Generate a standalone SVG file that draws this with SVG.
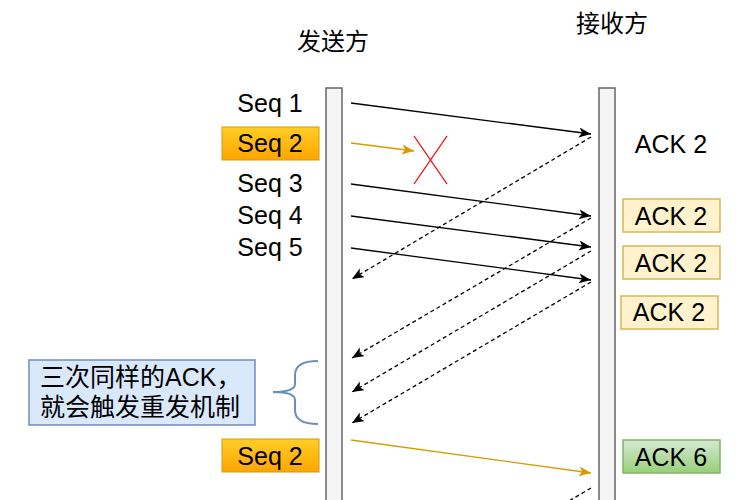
<svg xmlns="http://www.w3.org/2000/svg" width="746" height="500" viewBox="0 0 746 500">
<defs>
<linearGradient id="gOrange" x1="0" y1="0" x2="0" y2="1"><stop offset="0" stop-color="#ffcd28"/><stop offset="1" stop-color="#ffa500"/></linearGradient>
<linearGradient id="gGreen" x1="0" y1="0" x2="0" y2="1"><stop offset="0" stop-color="#d5e8d4"/><stop offset="1" stop-color="#97d077"/></linearGradient>
<marker id="aBlack" markerUnits="userSpaceOnUse" markerWidth="14" markerHeight="12" refX="12" refY="5" orient="auto"><path d="M0,0 L12,5 L0,10 L3,5 Z" fill="#000"/></marker>
<marker id="aOrange" markerUnits="userSpaceOnUse" markerWidth="14" markerHeight="12" refX="12" refY="5" orient="auto"><path d="M0,0 L12,5 L0,10 L3,5 Z" fill="#d79b00"/></marker>
</defs>
<style>
text{font-family:"Liberation Sans","Noto Sans CJK SC",sans-serif;font-size:25px;fill:#000}
.cjk{font-family:"Noto Sans CJK SC",sans-serif;font-size:24px}
.mid{text-anchor:middle}
.bar{fill:#f5f5f5;stroke:#666666;stroke-width:1.5}
.orange{fill:url(#gOrange);stroke:#d79b00;stroke-width:1}
.yellow{fill:#fff2cc;stroke:#d6b656;stroke-width:1.5}
.green{fill:url(#gGreen);stroke:#82b366;stroke-width:1.5}
.blue{fill:#dae8fc;stroke:#6c8ebf;stroke-width:1.5}
.msg{stroke:#000;stroke-width:1.3;fill:none;marker-end:url(#aBlack)}
.ack{stroke:#000;stroke-width:1.3;fill:none;stroke-dasharray:4 3;marker-end:url(#aBlack)}
.re{stroke:#d79b00;stroke-width:1.3;fill:none;marker-end:url(#aOrange)}
</style>
<rect width="746" height="500" fill="#fff"/>
<g id="sender">
<text class="cjk mid" x="333" y="50">发送方</text>
<rect class="bar" x="326" y="88" width="16" height="430"/>
</g>
<g id="receiver">
<text class="cjk mid" x="612" y="32">接收方</text>
<rect class="bar" x="599" y="88" width="16" height="430"/>
</g>
<g id="seq1"><text class="mid" x="270" y="112">Seq 1</text></g>
<g id="seq2"><rect class="orange" x="222" y="127" width="97" height="33"/><text class="mid" x="270" y="152">Seq 2</text></g>
<g id="seq3"><text class="mid" x="270" y="192">Seq 3</text></g>
<g id="seq4"><text class="mid" x="270" y="224">Seq 4</text></g>
<g id="seq5"><text class="mid" x="270" y="256">Seq 5</text></g>
<g id="ack2a"><text class="mid" x="671" y="153">ACK 2</text></g>
<g id="ack2b"><rect class="yellow" x="623" y="199" width="97" height="33"/><text class="mid" x="671" y="225">ACK 2</text></g>
<g id="ack2c"><rect class="yellow" x="623" y="246" width="97" height="33"/><text class="mid" x="671" y="272">ACK 2</text></g>
<g id="ack2d"><rect class="yellow" x="621" y="296" width="97" height="33"/><text class="mid" x="669" y="321">ACK 2</text></g>
<g id="note">
<rect class="blue" x="29" y="360" width="226" height="65"/>
<text x="40" y="386">三次同样的ACK，</text>
<text x="40" y="416">就会触发重发机制</text>
</g>
<g id="brace"><path d="M318,361 Q295,361 295,375 L295,384 Q295,392 273,392 Q295,392 295,400 L295,410 Q295,424 318,424" fill="none" stroke="#6c8ebf" stroke-width="2"/></g>
<g id="seq2retry"><rect class="orange" x="222" y="439" width="97" height="33"/><text class="mid" x="270" y="465">Seq 2</text></g>
<g id="ack6"><rect class="green" x="623" y="440" width="97" height="33"/><text class="mid" x="671" y="466">ACK 6</text></g>
<g id="lost"><path d="M414,136 L447,184 M447,136 L414,184" stroke="#ff0000" stroke-width="1.3" fill="none"/></g>
<g id="connectors">
<line class="msg" x1="351" y1="103" x2="591" y2="134"/>
<line class="re" x1="351" y1="143" x2="414" y2="151"/>
<line class="msg" x1="351" y1="184" x2="591" y2="216"/>
<line class="msg" x1="351" y1="216" x2="591" y2="247"/>
<line class="msg" x1="351" y1="248" x2="591" y2="280"/>
<line class="ack" x1="591" y1="137" x2="352" y2="279"/>
<line class="ack" x1="591" y1="218" x2="352" y2="358"/>
<line class="ack" x1="591" y1="251" x2="352" y2="392"/>
<line class="ack" x1="591" y1="282" x2="352" y2="423"/>
<line class="re" x1="351" y1="440" x2="591" y2="473"/>
<line class="ack" x1="591" y1="488" x2="352" y2="629"/>
</g>
</svg>
